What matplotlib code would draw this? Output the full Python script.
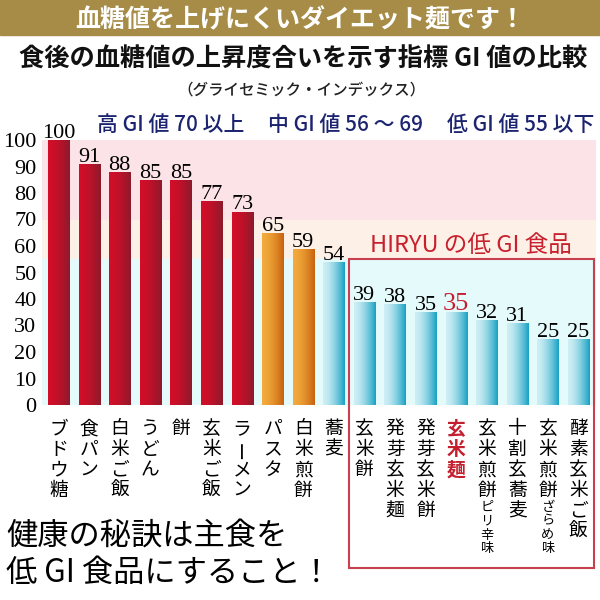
import numpy as np
import matplotlib.pyplot as plt
import matplotlib.patches as patches
from matplotlib.colors import to_rgb

plt.rcParams['font.family'] = ['Noto Sans CJK JP', 'DejaVu Sans']

# data
foods = ["ブドウ糖", "食パン", "白米ご飯", "うどん", "餅", "玄米ご飯", "ラーメン",
         "パスタ", "白米煎餅", "蕎麦", "玄米餅", "発芽玄米麺", "発芽玄米餅", "玄米麺",
         "玄米煎餅", "十割玄蕎麦", "玄米煎餅", "酵素玄米ご飯"]
suffix = ["", "", "", "", "", "", "", "", "", "", "", "", "", "",
          "ピリ辛味", "", "ざらめ味", ""]
gi = [100, 91, 88, 85, 85, 77, 73, 65, 59, 54, 39, 38, 35, 35, 32, 31, 25, 25]
yticks = [0, 10, 20, 30, 40, 50, 60, 70, 80, 90, 100]
highlight = 13  # 玄米麺

def bar_colors(v):
    if v >= 70:
        return "#d20e28", "#8c1a2c"
    if v > 55:
        return "#f2ab3c", "#c8620f"
    return "#cdeef5", "#18a2c4"

fig = plt.figure(figsize=(6, 6), dpi=100)
ax = fig.add_axes([42 / 600, 1 - 405 / 600, 554 / 600, 265 / 600])

# background bands
ax.axhspan(70, 100, color="#fbe3e7", zorder=0)
ax.axhspan(55, 70, color="#fdf0e6", zorder=0)
ax.axhspan(0, 55, color="#e5fafb", zorder=0)

x = np.arange(len(gi))
w = 0.69
bars = ax.bar(x, gi, width=w, color="none", zorder=2)
for i, b in enumerate(bars):
    c1, c2 = bar_colors(gi[i])
    t = np.linspace(0, 1, 40) ** 1.6
    grad = np.array([[np.array(to_rgb(c1)) * (1 - s) + np.array(to_rgb(c2)) * s for s in t]])
    im = ax.imshow(grad, extent=(b.get_x(), b.get_x() + b.get_width(), 0, gi[i]),
                   aspect="auto", zorder=2, interpolation="bilinear")
    im.set_clip_path(b)
    if i == highlight:
        ax.text(x[i], gi[i] + 0.8, str(gi[i]), ha="center", va="baseline",
                fontsize=19, color="#c41f2e", family="Liberation Serif")
    else:
        ax.text(x[i], gi[i] + 0.8, str(gi[i]), ha="center", va="baseline",
                fontsize=16, color="black", family="Liberation Serif")

ax.set_xlim(-0.54, 17.57)
ax.set_ylim(0, 100)
ax.set_yticks(yticks)
ax.set_yticklabels([str(v) for v in yticks], family="Liberation Serif", fontsize=16)
ax.tick_params(axis="y", length=0, pad=4)
ax.set_xticks([])
for s in ax.spines.values():
    s.set_visible(False)

# vertical category labels
for i, name in enumerate(foods):
    off = -17
    red = i == highlight
    for ch in name:
        ax.annotate(ch, (x[i], 0), xycoords=("data", "axes fraction"),
                    xytext=(0, off), textcoords="offset points",
                    ha="center", va="center", fontsize=13.5,
                    rotation=90 if ch == "ー" else 0,
                    color="#c41f2e" if red else "black",
                    fontweight="bold" if red else "normal")
        off -= 14.8
    off += 2.6
    for ch in suffix[i]:
        ax.annotate(ch, (x[i], 0), xycoords=("data", "axes fraction"),
                    xytext=(0, off), textcoords="offset points",
                    ha="center", va="center", fontsize=9.5)
        off -= 10

# HIRYU box
fig.patches.append(patches.Rectangle((349 / 600, 1 - 568 / 600), 245 / 600, 309 / 600,
                                     transform=fig.transFigure, fill=False,
                                     edgecolor="#c8404f", lw=1.5))
fig.text(471 / 600, 1 - 245 / 600, "HIRYU の低 GI 食品", ha="center", va="center",
         fontsize=17, color="#c8202e")

# band labels
navy = "#1c2470"
fig.text(171 / 600, 1 - 125 / 600, "高 GI 値 70 以上", ha="center", va="center",
         fontsize=15, color=navy, fontweight="medium")
fig.text(345 / 600, 1 - 125 / 600, "中 GI 値 56 ～ 69", ha="center", va="center",
         fontsize=15, color=navy, fontweight="medium")
fig.text(521 / 600, 1 - 125 / 600, "低 GI 値 55 以下", ha="center", va="center",
         fontsize=15, color=navy, fontweight="medium")

# banner and titles
fig.patches.append(patches.Rectangle((0, 1 - 35 / 600), 1, 35 / 600,
                                     transform=fig.transFigure, color="#a68c46"))
fig.text(0.5, 1 - 20 / 600, "血糖値を上げにくいダイエット麺です！", ha="center", va="center",
         fontsize=18, color="white", fontweight="bold")
fig.text(303 / 600, 1 - 59 / 600, "食後の血糖値の上昇度合いを示す指標 GI 値の比較", ha="center",
         va="center", fontsize=18.2, fontweight="bold", color="#111111")
fig.text(301 / 600, 1 - 90 / 600, "（グライセミック・インデックス）", ha="center", va="center",
         fontsize=11.2, color="#222222", fontweight="medium")

fig.text(6 / 600, 1 - 537 / 600, "健康の秘訣は主食を", ha="left", va="center", fontsize=22.5)
fig.text(6 / 600, 1 - 573 / 600, "低 GI 食品にすること！", ha="left", va="center", fontsize=22.5)

fig.savefig("out.png", dpi=100)
